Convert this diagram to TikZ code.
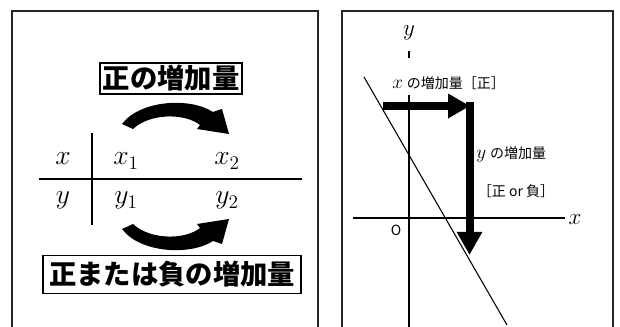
\documentclass[tikz,border=0pt]{standalone}
\usepackage{fontspec}
\newfontfamily\jp{Noto Sans CJK JP}
\usetikzlibrary{arrows.meta}
\begin{document}
\begin{tikzpicture}[x=0.75pt,y=-0.75pt,
  frame/.style={draw=black!85,line width=1.4pt},
  thin/.style={draw=black,line width=0.8pt},
  lblbox/.style={draw=black,line width=1.2pt,inner sep=0pt,align=center,
    font=\jp\bfseries\fontsize{20.5}{24}\selectfont},
  mth/.style={inner sep=0pt,anchor=base,font=\fontsize{22}{26}\selectfont},
  axlbl/.style={inner sep=0pt,font=\fontsize{16}{19}\selectfont},
  note/.style={inner sep=0pt,font=\jp\fontsize{10.5}{12}\selectfont},
  thick arrow/.style={draw=black,line width=6pt},
  bend arrow/.style={fill=black,draw=none}
]
\useasboundingbox (0,0) rectangle (620,327);
\fill[white] (0,0) rectangle (620,327);

% ---------- left panel ----------
\draw[frame] (12,330) -- (12,11) -- (318,11) -- (318,330);

\node[lblbox,minimum width=106.5pt,minimum height=23pt] (top) at (171,78.5) {正の増加量};
\node[lblbox,minimum width=193.5pt,minimum height=28.5pt] (bot) at (172,274.5) {正または負の増加量};

% table
\coordinate (vt) at (92,133);
\coordinate (vb) at (92,225);
\coordinate (hl) at (39,179);
\coordinate (hr) at (302,179);
\draw[thin] (vt) -- (vb);
\draw[thin] (hl) -- (hr);

\node[mth] (xl) at (63,165) {$x$};
\node[mth] (x1) at (126,165) {$x_1$};
\node[mth] (x2) at (227,165) {$x_2$};
\node[mth] (yl) at (63,204) {$y$};
\node[mth] (y1) at (126,204) {$y_1$};
\node[mth] (y2) at (227,204) {$y_2$};

% curved arrows
\path[bend arrow] (122,124) .. controls (140,100) and (190,97) .. (213,112)
  -- (222,109) -- (229,134) -- (197,129) -- (200,125)
  .. controls (185,113) and (150,113) .. (133,129) -- cycle;
\path[bend arrow] (122,229) .. controls (140,253) and (190,256) .. (213,241)
  -- (222,244) -- (229,219) -- (197,224) -- (200,228)
  .. controls (185,240) and (150,240) .. (133,224) -- cycle;

% ---------- right panel ----------
\draw[frame] (342,330) -- (342,11) -- (613,11) -- (613,330);

\coordinate (xa0) at (353,218);
\coordinate (xa1) at (565,218);
\coordinate (ya0) at (409,95);
\coordinate (ya1) at (409,330);
\coordinate (yt0) at (409,51);
\coordinate (yt1) at (409,58);
\draw[thin] (xa0) -- (xa1);
\draw[thin] (ya0) -- (ya1);
\draw[thin] (yt0) -- (yt1);
\node[axlbl] (xlab) at (575,220) {$x$};
\node[axlbl] (ylab) at (409,33) {$y$};
\node[note] (O) at (396,230) {O};

\coordinate (d0) at (364,77);
\coordinate (d1) at (507,325);
\draw[thin] (d0) -- (d1);

\coordinate (hs) at (383,106);
\coordinate (he) at (470,106);
\coordinate (vs) at (469.5,102);
\coordinate (ve) at (469.5,255);
\draw[thick arrow,-{Triangle[length=16.5pt,width=17.5pt]}] (hs) -- (he);
\draw[thick arrow,-{Triangle[length=17.3pt,width=18pt]}] (vs) -- (ve);

\node[note,anchor=west] (lx) at (392,83) {\fontsize{14.5}{16}\selectfont$x$\fontsize{10.5}{12}\selectfont\hspace{3pt}の増加量［正］};
\node[note,anchor=west] (ly) at (476,154) {\fontsize{14.5}{16}\selectfont$y$\fontsize{10.5}{12}\selectfont\hspace{3pt}の増加量};
\node[note] (lpm) at (516,191) {［正 or 負］};
\end{tikzpicture}
\end{document}
